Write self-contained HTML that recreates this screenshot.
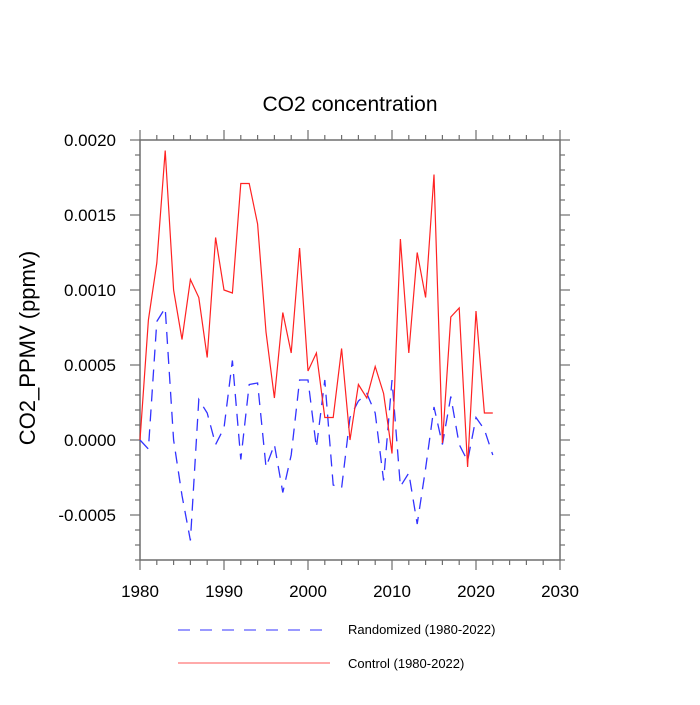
<!DOCTYPE html>
<html><head><meta charset="utf-8"><style>
body{margin:0;background:#fff;}
svg text{font-family:"Liberation Sans",sans-serif;fill:#000;}
</style></head><body>
<svg id="chart" width="700" height="700" xmlns="http://www.w3.org/2000/svg">
<text x="350" y="111" font-size="21" text-anchor="middle">CO2 concentration</text>
<text transform="translate(35,348) rotate(-90)" font-size="22" text-anchor="middle">CO2_PPMV  (ppmv)</text>
<g id="axes"></g>
<g id="series"></g>
<g>
<line x1="178" y1="630" x2="330" y2="630" stroke="#3333ff" stroke-width="1" stroke-dasharray="12,10"/>
<text x="348" y="634" font-size="13">Randomized (1980-2022)</text>
<line x1="178" y1="663" x2="330" y2="663" stroke="#ff5555" stroke-width="1"/>
<text x="348" y="668" font-size="13">Control (1980-2022)</text>
</g>
</svg>
<script>
const years=[];for(let y=1980;y<=2022;y++)years.push(y);
const control=[0,0.0008,0.00118,0.00193,0.001,0.00067,0.00107,0.00095,0.00055,0.00135,0.001,0.00098,0.00171,0.00171,0.00144,0.00072,0.00028,0.00085,0.00058,0.00128,0.00046,0.00058,0.00015,0.00015,0.00061,0.0,0.00037,0.00028,0.00049,0.00031,-0.00009,0.00134,0.00058,0.00125,0.00095,0.00177,-0.00002,0.00082,0.00088,-0.00018,0.00086,0.00018,0.00018];
const randomized=[0,-0.00006,0.00079,0.00088,0.0,-0.00037,-0.00067,0.00027,0.00018,-0.00003,0.00008,0.00053,-0.00013,0.00037,0.00038,-0.00018,-0.00003,-0.00035,-0.0001,0.0004,0.0004,-0.00005,0.0004,-0.0003,-0.00032,0.00015,0.00026,0.00031,0.00018,-0.00027,0.0004,-0.00031,-0.00022,-0.00056,-0.00019,0.00022,-0.00003,0.00029,-0.00003,-0.00014,0.00015,0.00007,-0.0001];
const xTicks=[1980,1990,2000,2010,2020,2030];
const yTicks=[-0.0005,0,0.0005,0.001,0.0015,0.002];
const yTickLabels=["-0.0005","0.0000","0.0005","0.0010","0.0015","0.0020"];
const L=140,R=560,T=140,B=560;
const xs=v=>L+(v-1980)/50*(R-L);
const ys=v=>440-v*150000;
const NS="http://www.w3.org/2000/svg";
const C='#6e6e6e';
const ax=document.getElementById('axes'),se=document.getElementById('series');
function mk(tag,at,p){const e=document.createElementNS(NS,tag);for(const k in at)e.setAttribute(k,at[k]);p.appendChild(e);return e;}
const fr=mk('rect',{x:L,y:T,width:R-L,height:B-T,fill:'none',stroke:C,'stroke-width':1.5},ax);


for(let y=1980;y<=2030;y+=2){const len=(y%10===0)?10:5;const x=xs(y);
mk('line',{x1:x,y1:B,x2:x,y2:B+len,stroke:C,'stroke-width':1.2},ax);mk('line',{x1:x,y1:T,x2:x,y2:T-len,stroke:C,'stroke-width':1.2},ax);}
for(let i=-8;i<=20;i++){const v=i*0.0001;const len=(i%5===0)?10:5;const y=ys(v);
mk('line',{x1:L,y1:y,x2:L-len,y2:y,stroke:C,'stroke-width':1.2},ax);mk('line',{x1:R,y1:y,x2:R+len,y2:y,stroke:C,'stroke-width':1.2},ax);}
xTicks.forEach(v=>{const t=mk('text',{x:xs(v),y:B+37,'font-size':17,'text-anchor':'middle'},ax);t.textContent=v;

});
yTicks.forEach((v,i)=>{const t=mk('text',{x:L-24,y:ys(v)+6,'font-size':17,'text-anchor':'end'},ax);t.textContent=yTickLabels[i];

});
function pts(a){return a.map((v,i)=>xs(years[i])+','+ys(v)).join(' ');}
const pr=mk('polyline',{points:pts(randomized),fill:'none',stroke:'#3333ff','stroke-width':1.3,'stroke-dasharray':'12,8'},se);


const pc=mk('polyline',{points:pts(control),fill:'none',stroke:'#ff2222','stroke-width':1.2},se);


</script>
</body></html>
